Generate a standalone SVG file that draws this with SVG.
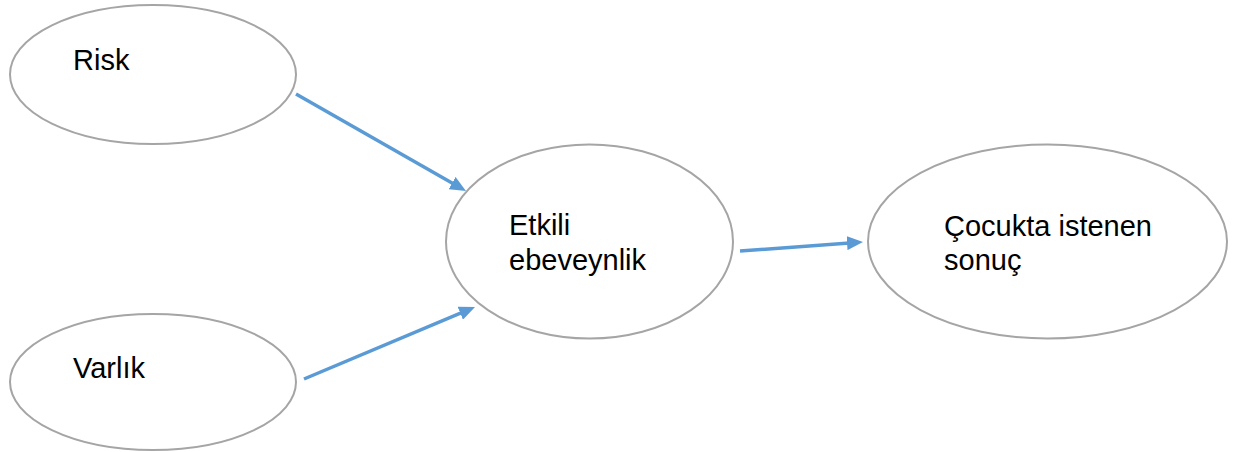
<svg xmlns="http://www.w3.org/2000/svg" width="1235" height="452" viewBox="0 0 1235 452">
<style>
.node{fill:#FFFFFF;stroke:#A5A5A5;stroke-width:2}
.lbl{font-family:"Liberation Sans",Arial,sans-serif;font-size:29px;fill:#000000}
.edge{stroke:#5B9BD5;stroke-width:3.5;fill:none;marker-end:url(#ah)}
</style>
<defs>
<marker id="ah" markerUnits="userSpaceOnUse" markerWidth="16" markerHeight="14" refX="6" refY="7" orient="auto">
<path d="M0,0 L16,7 L0,14 z" fill="#5B9BD5"/>
</marker>
</defs>
<rect width="1235" height="452" fill="#FFFFFF"/>
<g id="node-risk">
<ellipse class="node" cx="153" cy="74.5" rx="143" ry="69.5"/>
<text class="lbl" x="73" y="70">Risk</text>
</g>
<g id="node-varlik">
<ellipse class="node" cx="153" cy="382" rx="143" ry="68"/>
<text class="lbl" x="73" y="378">Varlık</text>
</g>
<g id="node-etkili">
<ellipse class="node" cx="589.5" cy="241.5" rx="143.5" ry="97"/>
<text class="lbl" x="509" y="235">Etkili</text>
<text class="lbl" x="509" y="270">ebeveynlik</text>
</g>
<g id="node-sonuc">
<ellipse class="node" cx="1047.5" cy="241.5" rx="179.5" ry="97"/>
<text class="lbl" x="944" y="236">Çocukta istenen</text>
<text class="lbl" x="944" y="270">sonuç</text>
</g>
<g id="connectors">
<line class="edge" x1="296" y1="94" x2="457.3" y2="186"/>
<line class="edge" x1="304" y1="379" x2="465.8" y2="310.9"/>
<line class="edge" x1="740" y1="251" x2="853" y2="242.7"/>
</g>
</svg>
